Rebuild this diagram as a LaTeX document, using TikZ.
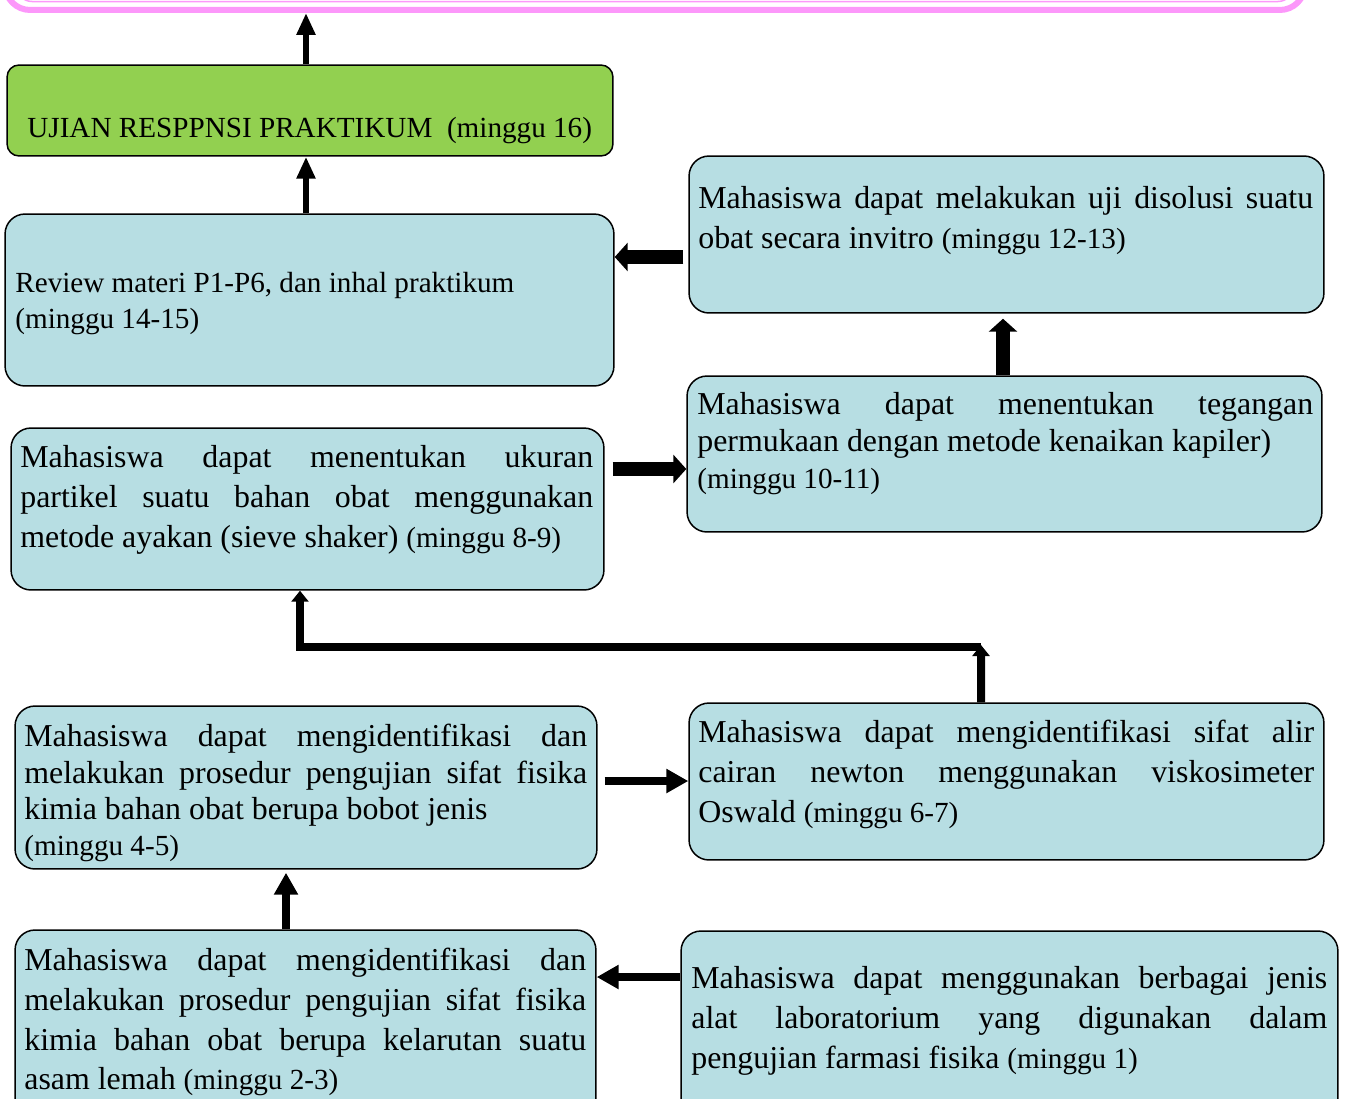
\documentclass[tikz,border=0pt]{standalone}
\usepackage{fontspec}
\setmainfont{Liberation Serif}
\usetikzlibrary{arrows.meta}
\definecolor{boxblue}{RGB}{183,222,227}
\definecolor{boxgreen}{RGB}{146,208,80}
\definecolor{pinkline}{RGB}{252,152,250}
\newcommand\bigtxt{\fontsize{18.15}{22.8}\selectfont}
\newcommand\smalltxt{\fontsize{16.6}{20.5}\selectfont}
\newcommand\mg[1]{{\smalltxt #1}}
\tikzset{
  box/.style={draw=black, line width=0.85pt, rounded corners=0.4cm, fill=boxblue, inner sep=0pt},
  txt/.style={anchor=north west, inner sep=0pt, align=justify, font=\bigtxt},
  arrthin/.style={line width=0.12cm, -{Triangle[width=0.36cm, length=0.44cm]}},
  arrfat/.style={line width=0.28cm, -{Triangle[width=0.56cm, length=0.26cm]}},
  arrmid/.style={line width=0.16cm, -{Triangle[width=0.46cm, length=0.44cm]}},
  arrknee/.style={line width=0.16cm, -{Triangle[width=0.34cm, length=0.22cm]}}
}
\hyphenpenalty=10000
\tolerance=10000
\begin{document}
\begin{tikzpicture} [x=0.02cm,y=-0.02cm]
\useasboundingbox (0,0) rectangle (1346,1099);
%top box
        \node[draw=pinkline, line width=0.12cm, rounded corners=0.5cm, minimum width=26cm, minimum height=2cm] (tujuan) at (655,-40) {};
        \draw [ color = pinkline, line width=0.03cm, rounded corners=0.3cm ] (17,-80) rectangle (1293,1.5);
%ujian
        \node[box, fill=boxgreen, rounded corners=0.24cm, minimum width=12.12cm, minimum height=1.82cm] (ujian) at (310,110.5) {};
        \node[anchor=base west, inner sep=0pt, font=\smalltxt] (ujian-t) at (27,137) {UJIAN RESPPNSI PRAKTIKUM\ \ (minggu 16)};
%review
        \node[box, minimum width=12.18cm, minimum height=3.44cm] (review) at (309.5,300) {};
        \node[txt, align=left, font=\smalltxt] (review-t) at (15,272) {Review materi P1-P6, dan inhal praktikum\\(minggu 14-15)};
%disolusi
        \node[box, minimum width=12.7cm, minimum height=3.14cm] (disolusi) at (1006.5,234.5) {};
        \node[txt, text width=12.3cm] (disolusi-t) at (698,186) {Mahasiswa dapat melakukan uji disolusi suatu\linebreak obat secara invitro \mg{(minggu 12-13)}};
%tegangan
        \node[box, minimum width=12.7cm, minimum height=3.12cm] (tegangan) at (1004.5,454) {};
        \node[txt, text width=12.32cm, font=\fontsize{18.15}{21}\selectfont] (tegangan-t) at (697,392) {Mahasiswa dapat menentukan tegangan\linebreak permukaan dengan metode kenaikan kapiler)\\\mg{(minggu 10-11)}};
%ukuran
        \node[box, minimum width=11.86cm, minimum height=3.24cm] (ukuran) at (307.5,509) {};
        \node[txt, text width=11.46cm] (ukuran-t) at (20,445) {Mahasiswa dapat menentukan ukuran\linebreak partikel suatu bahan obat menggunakan\linebreak metode ayakan (sieve shaker) \mg{(minggu 8-9)}};
%viskosimeter
        \node[box, minimum width=12.7cm, minimum height=3.14cm] (visko) at (1006.5,781.5) {};
        \node[txt, text width=12.32cm] (visko-t) at (698,720) {Mahasiswa dapat mengidentifikasi sifat alir\linebreak cairan newton menggunakan viskosimeter\linebreak Oswald \mg{(minggu 6-7)}};
%bobot jenis
        \node[box, minimum width=11.64cm, minimum height=3.26cm] (bobot) at (306,787.5) {};
        \node[txt, text width=11.26cm, font=\fontsize{18.15}{20.6}\selectfont] (bobot-t) at (24,724) {Mahasiswa dapat mengidentifikasi dan\linebreak melakukan prosedur pengujian sifat fisika\linebreak kimia bahan obat berupa bobot jenis\\\mg{(minggu 4-5)}};
%kelarutan
        \node[box, minimum width=11.62cm, minimum height=4cm] (kelarutan) at (305.5,1030) {};
        \node[txt, text width=11.24cm, font=\fontsize{18.15}{22.6}\selectfont] (kelarutan-t) at (24,948) {Mahasiswa dapat mengidentifikasi dan\linebreak melakukan prosedur pengujian sifat fisika\linebreak kimia bahan obat berupa kelarutan suatu\linebreak asam lemah \mg{(minggu 2-3)}};
%alat
        \node[box, minimum width=13.14cm, minimum height=3.98cm] (alat) at (1009.5,1030.5) {};
        \node[txt, text width=12.72cm] (alat-t) at (691,966) {Mahasiswa dapat menggunakan berbagai jenis\linebreak alat laboratorium yang digunakan dalam\linebreak pengujian farmasi fisika \mg{(minggu 1)}};
%arrows
        \coordinate (knee) at (981,647);
        \draw [ arrthin ] ([xshift=-0.08cm]ujian.north) -- ([xshift=-0.08cm]ujian.north |- tujuan.south);
        \draw [ arrthin ] ([xshift=-0.07cm]review.north) -- ([xshift=-0.07cm]review.north |- ujian.south);
        \draw [ arrfat, shorten <=0.1cm ] ([yshift=-0.45cm]disolusi.west) -- ([yshift=-0.45cm]disolusi.west -| review.east);
        \draw [ arrfat, shorten >=0.1cm ] ([xshift=-0.03cm]tegangan.north) -- ([xshift=-0.03cm]tegangan.north |- disolusi.south);
        \draw [ arrfat, shorten <=0.16cm ] ([yshift=0.8cm]ukuran.east) -- ([yshift=0.8cm]ukuran.east -| tegangan.west);
        \draw [ arrknee ] ([xshift=-0.51cm]visko.north) -- ([yshift=0.04cm]knee);
        \draw [ arrknee ] (knee) -| ([xshift=-0.15cm]ukuran.south);
        \draw [ arrmid, shorten <=0.14cm ] ([yshift=0.13cm]bobot.east) -- ([yshift=0.13cm]bobot.east -| visko.west);
        \draw [ arrmid, shorten >=0.06cm ] ([xshift=-0.39cm]kelarutan.north) -- ([xshift=-0.39cm]kelarutan.north |- bobot.south);
        \draw [ arrmid ] ([yshift=1.07cm]alat.west) -- ([yshift=1.07cm]alat.west -| kelarutan.east);
    \end{tikzpicture}
\end{document}
